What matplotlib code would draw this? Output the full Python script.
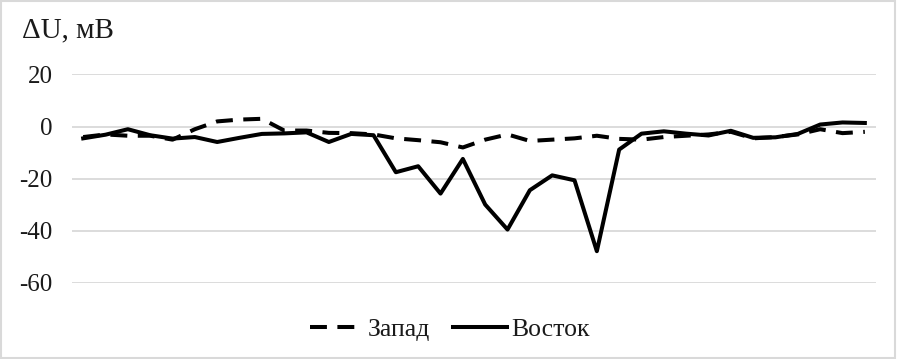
import matplotlib
matplotlib.use("Agg")
import matplotlib.pyplot as plt
import numpy as np

plt.rcParams["font.family"] = ["Liberation Serif", "DejaVu Serif"]
plt.rcParams["axes.unicode_minus"] = False

# значения по точкам профиля, мВ
zapad = [-4, -3, -3.5, -3.5, -5, -1, 2, 2.7, 3, -1.5, -1.5, -2.4, -2.5, -3,
         -4.5, -5.2, -6, -8, -5, -3, -5.5, -5, -4.5, -3.5, -4.7, -5, -4,
         -3.5, -3, -2, -4.5, -4, -3, -1, -2.5, -2]
vostok = [-4.5, -3.1, -1, -3.3, -4.6, -4, -5.9, -4.3, -2.8, -2.6, -2.2, -5.9,
          -2.8, -3.3, -17.5, -15.2, -25.7, -12.4, -29.9, -39.5, -24.4, -18.7,
          -20.6, -47.8, -8.8, -2.7, -1.8, -2.7, -3.4, -1.6, -4.3, -4.1, -2.8,
          0.8, 1.6, 1.4]
yticks = [-60, -40, -20, 0, 20]

x = np.arange(len(vostok))

fig = plt.figure(figsize=(8.97, 3.59), dpi=100)
ax = fig.add_axes([0.0803, 0.2117, 0.8963, 0.5808])

ax.plot(x, zapad, color="black", lw=2.9, linestyle=(0, (4.2, 2.6)), label="Запад")
ax.plot(x, vostok, color="black", lw=2.9, solid_joinstyle="round", label="Восток")

ax.set_xlim(-0.5, len(x) - 0.5)
ax.set_ylim(-60, 20)
ax.set_yticks(yticks)
ax.set_xticks([])
ax.grid(axis="y", color="#d9d9d9", lw=1.3)
ax.set_axisbelow(True)
for s in ax.spines.values():
    s.set_visible(False)
ax.tick_params(axis="y", length=0, pad=14, labelsize=18, labelcolor="#1a1a1a")

fig.text(0.025, 0.916, "ΔU, мВ", fontsize=21, va="center", ha="left", color="#1a1a1a")

ax.legend(loc="center", bbox_to_anchor=(0.47, -0.225), ncol=2, frameon=False,
          fontsize=18.5, handlelength=2.1, handletextpad=0.15, columnspacing=0.9,
          labelcolor="#1a1a1a")

fig.patches.append(plt.Rectangle((0.001, 0.002), 0.997, 0.995, transform=fig.transFigure,
                                 fill=False, edgecolor="#d9d9d9", lw=1.5))

plt.savefig("out.png", dpi=100)
